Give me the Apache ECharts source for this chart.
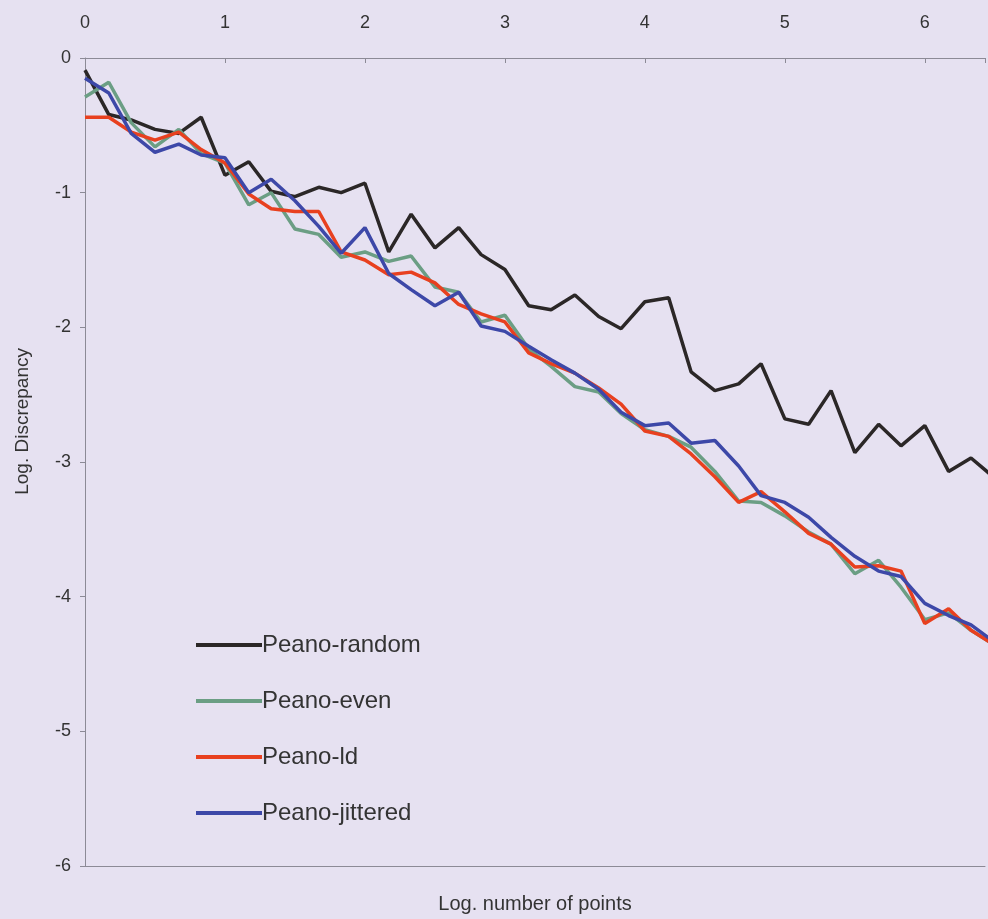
<!DOCTYPE html>
<html>
<head>
<meta charset="utf-8">
<script src="https://cdn.jsdelivr.net/npm/echarts@6/dist/echarts.min.js"></script>
<style>
html,body{margin:0;padding:0;background:#e6e1f1;overflow:hidden;}
#chart{width:100vw;height:100vh;}
</style>
</head>
<body>
<div id="chart"></div>
<script>
// Log. number of points (x positions of samples)
const xValues = [0,0.17,0.33,0.5,0.67,0.83,1,1.17,1.33,1.5,1.67,1.83,2,2.17,2.33,2.5,2.67,2.83,3,3.17,3.33,3.5,3.67,3.83,4,4.17,4.33,4.5,4.67,4.83,5,5.17,5.33,5.5,5.67,5.83,6,6.17,6.33,6.5];

const peanoRandom = [-0.09,-0.42,-0.46,-0.53,-0.56,-0.44,-0.87,-0.77,-0.99,-1.03,-0.96,-1.00,-0.93,-1.44,-1.16,-1.41,-1.26,-1.46,-1.57,-1.84,-1.87,-1.76,-1.92,-2.01,-1.81,-1.78,-2.33,-2.47,-2.42,-2.27,-2.68,-2.72,-2.47,-2.93,-2.72,-2.88,-2.73,-3.07,-2.97,-3.12];

const peanoEven = [-0.29,-0.18,-0.48,-0.66,-0.53,-0.71,-0.78,-1.09,-1.00,-1.27,-1.31,-1.48,-1.44,-1.51,-1.47,-1.70,-1.74,-1.96,-1.91,-2.16,-2.29,-2.44,-2.48,-2.64,-2.76,-2.81,-2.89,-3.07,-3.29,-3.30,-3.40,-3.52,-3.61,-3.83,-3.73,-3.93,-4.17,-4.12,-4.25,-4.36];

const peanoLd = [-0.44,-0.44,-0.55,-0.61,-0.55,-0.68,-0.78,-1.01,-1.12,-1.14,-1.14,-1.44,-1.50,-1.61,-1.59,-1.67,-1.83,-1.90,-1.96,-2.19,-2.27,-2.34,-2.45,-2.57,-2.77,-2.81,-2.94,-3.11,-3.30,-3.22,-3.37,-3.53,-3.61,-3.78,-3.77,-3.81,-4.20,-4.09,-4.25,-4.36];

const peanoJittered = [-0.15,-0.26,-0.56,-0.70,-0.64,-0.72,-0.74,-1.00,-0.90,-1.06,-1.25,-1.45,-1.26,-1.60,-1.72,-1.84,-1.74,-1.99,-2.03,-2.14,-2.24,-2.34,-2.46,-2.63,-2.73,-2.71,-2.86,-2.84,-3.03,-3.25,-3.30,-3.41,-3.56,-3.70,-3.81,-3.85,-4.05,-4.14,-4.21,-4.34];

const seriesNames = ['Peano-random','Peano-even','Peano-ld','Peano-jittered'];
const seriesColors = ['#2b2727','#6b9e84','#e8401f','#3d48a8'];
const seriesValues = [peanoRandom, peanoEven, peanoLd, peanoJittered];
const yTicks = [0,-1,-2,-3,-4,-5,-6];

const pair = vals => vals.map((v,i)=>[xValues[i], v]);

const el = document.getElementById('chart');
const chart = echarts.init(el, null, {renderer:'canvas', width:988, height:919});
chart.setOption({
  backgroundColor:'#e6e1f1',
  animation:false,
  textStyle:{fontFamily:'Liberation Sans, Arial, sans-serif'},
  grid:{left:85, right:-3, top:58, bottom:45, containLabel:false},
  legend:{
    orient:'vertical', left:191, top:628,
    icon:'rect', itemWidth:66, itemHeight:4, itemGap:32,
    textStyle:{fontSize:24, color:'#333', padding:[0,0,0,-5]},
    data: seriesNames
  },
  xAxis:[{
    type:'value', position:'top', min:0, max:6.43, interval:1,
    axisLine:{show:true, lineStyle:{color:'#8c8a96', width:1}},
    axisTick:{show:true, inside:true, length:5, lineStyle:{color:'#8c8a96'}},
    axisLabel:{fontSize:18, color:'#333', margin:26,
      formatter: v => Number.isInteger(v) ? String(v) : ''},
    splitLine:{show:false}
  },{
    type:'value', position:'bottom', min:0, max:6.43, interval:1,
    name:'Log. number of points', nameLocation:'middle', nameGap:28,
    nameTextStyle:{fontSize:20, color:'#333'},
    axisLine:{show:true, onZero:false, lineStyle:{color:'#8c8a96', width:1}},
    axisTick:{show:false}, axisLabel:{show:false}, splitLine:{show:false}
  }],
  yAxis:{
    type:'value', min:-6, max:0, interval:1,
    axisLine:{show:true, onZero:false, lineStyle:{color:'#8c8a96', width:1}},
    axisTick:{show:true, length:5, lineStyle:{color:'#8c8a96'}},
    axisLabel:{fontSize:18, color:'#333', margin:14,
      formatter: v => yTicks.includes(v) ? String(v) : ''},
    splitLine:{show:false}
  },
  graphic:[{
    type:'text', left:13, top:348, rotation:Math.PI/2,
    style:{text:'Log. Discrepancy', fontSize:19, fill:'#333', fontFamily:'Liberation Sans, Arial, sans-serif'}
  }],
  series: seriesNames.map((n,i)=>({
    name:n, type:'line', xAxisIndex:0, data:pair(seriesValues[i]),
    showSymbol:false, symbol:'none', clip:true,
    lineStyle:{color:seriesColors[i], width:3.5},
    itemStyle:{color:seriesColors[i]}
  }))
});
</script>
</body>
</html>
